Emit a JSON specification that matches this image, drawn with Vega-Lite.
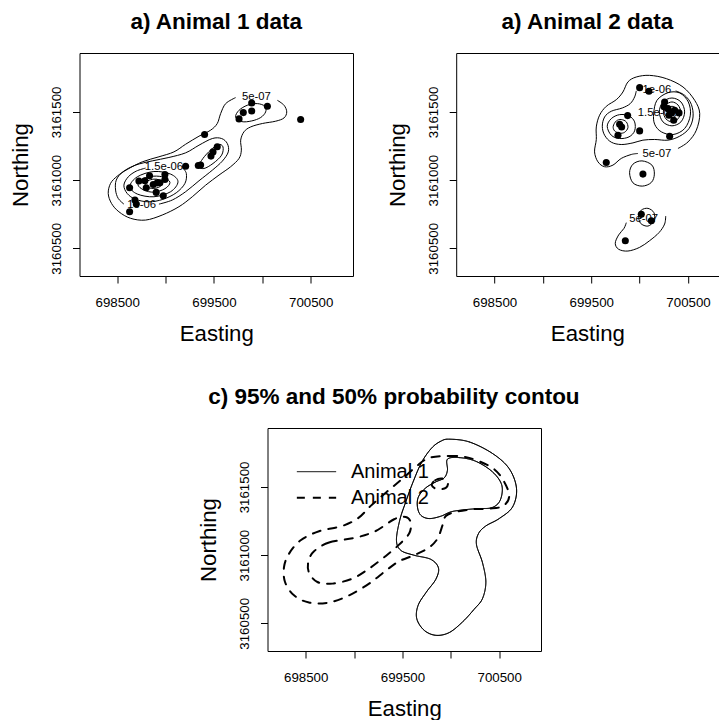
{
"$schema": "https://vega.github.io/schema/vega-lite/v6.json",
"background": "white",
"padding": {"left": 8.5, "top": 10, "right": 0, "bottom": 0},
"config": {
 "font": "Liberation Sans",
 "view": {"stroke": "black", "strokeWidth": 1},
 "axis": {"domain": false, "grid": false, "ticks": true, "tickColor": "black", "tickSize": 7, "tickWidth": 1, "labelColor": "black", "labelFontSize": 13.3, "labelFont": "Liberation Sans", "titleFont": "Liberation Sans", "titleFontSize": 22.2, "titleFontWeight": "normal", "titleColor": "black", "labelFlush": false, "labelOverlap": false, "labelBound": false},
 "axisX": {"labelPadding": 12, "titlePadding": 14},
 "axisY": {"labelAngle": -90, "labelAlign": "center", "labelBaseline": "alphabetic", "labelPadding": 12, "titlePadding": 17},
 "title": {"fontSize": 22.5, "font": "Liberation Sans", "fontWeight": "bold", "color": "black", "baseline": "alphabetic", "frame": "group", "anchor": "middle"}
},
"datasets": {
 "a_open": [
  {"s":"o1","i":0,"x":700155,"y":3161585},{"s":"o1","i":1,"x":700224,"y":3161549},{"s":"o1","i":2,"x":700252,"y":3161500},{"s":"o1","i":3,"x":700224,"y":3161456},{"s":"o1","i":4,"x":700138,"y":3161432},{"s":"o1","i":5,"x":700000,"y":3161415},{"s":"o1","i":6,"x":699879,"y":3161390},{"s":"o1","i":7,"x":699810,"y":3161354},{"s":"o1","i":8,"x":699776,"y":3161293},{"s":"o1","i":9,"x":699783,"y":3161220},{"s":"o1","i":10,"x":699759,"y":3161159},{"s":"o1","i":11,"x":699672,"y":3161098},{"s":"o1","i":12,"x":699552,"y":3161037},{"s":"o1","i":13,"x":699414,"y":3160963},{"s":"o1","i":14,"x":699276,"y":3160878},{"s":"o1","i":15,"x":699138,"y":3160805},{"s":"o1","i":16,"x":698965,"y":3160744},{"s":"o1","i":17,"x":698793,"y":3160707},{"s":"o1","i":18,"x":698638,"y":3160720},{"s":"o1","i":19,"x":698517,"y":3160768},{"s":"o1","i":20,"x":698441,"y":3160829},{"s":"o1","i":21,"x":698407,"y":3160902},{"s":"o1","i":22,"x":698431,"y":3160976},{"s":"o1","i":23,"x":698500,"y":3161029},{"s":"o1","i":24,"x":698603,"y":3161078},{"s":"o1","i":25,"x":698759,"y":3161134},{"s":"o1","i":26,"x":698931,"y":3161171},{"s":"o1","i":27,"x":699086,"y":3161207},{"s":"o1","i":28,"x":699207,"y":3161263},{"s":"o1","i":29,"x":699345,"y":3161322},{"s":"o1","i":30,"x":699465,"y":3161366},{"s":"o1","i":31,"x":699534,"y":3161415},{"s":"o1","i":32,"x":699569,"y":3161488},{"s":"o1","i":33,"x":699621,"y":3161561},{"s":"o1","i":34,"x":699724,"y":3161605},
  {"s":"o2","i":0,"x":698931,"y":3160824},{"s":"o2","i":1,"x":699069,"y":3160854},{"s":"o2","i":2,"x":699207,"y":3160915},{"s":"o2","i":3,"x":699345,"y":3160995},{"s":"o2","i":4,"x":699483,"y":3161073},{"s":"o2","i":5,"x":699586,"y":3161139},{"s":"o2","i":6,"x":699648,"y":3161207},{"s":"o2","i":7,"x":699638,"y":3161268},{"s":"o2","i":8,"x":699579,"y":3161305},{"s":"o2","i":9,"x":699483,"y":3161305},{"s":"o2","i":10,"x":699345,"y":3161256},{"s":"o2","i":11,"x":699207,"y":3161200},{"s":"o2","i":12,"x":699034,"y":3161166},{"s":"o2","i":13,"x":698862,"y":3161141},{"s":"o2","i":14,"x":698690,"y":3161110},{"s":"o2","i":15,"x":698559,"y":3161061},{"s":"o2","i":16,"x":698490,"y":3161000},{"s":"o2","i":17,"x":698483,"y":3160927},{"s":"o2","i":18,"x":698510,"y":3160866},{"s":"o2","i":19,"x":698569,"y":3160824},
  {"s":"o3","i":0,"x":699172,"y":3161093},{"s":"o3","i":1,"x":699214,"y":3161049},{"s":"o3","i":2,"x":699200,"y":3160976},{"s":"o3","i":3,"x":699110,"y":3160907},{"s":"o3","i":4,"x":698972,"y":3160859},{"s":"o3","i":5,"x":698828,"y":3160841},{"s":"o3","i":6,"x":698690,"y":3160859},{"s":"o3","i":7,"x":698603,"y":3160902},{"s":"o3","i":8,"x":698569,"y":3160963},{"s":"o3","i":9,"x":698614,"y":3161024},{"s":"o3","i":10,"x":698697,"y":3161066},{"s":"o3","i":11,"x":698793,"y":3161088}
 ],
 "a_closed": [
  {"s":"c1","i":0,"x":699724,"y":3161463},{"s":"c1","i":1,"x":699759,"y":3161512},{"s":"c1","i":2,"x":699845,"y":3161549},{"s":"c1","i":3,"x":699948,"y":3161561},{"s":"c1","i":4,"x":700027,"y":3161541},{"s":"c1","i":5,"x":700034,"y":3161500},{"s":"c1","i":6,"x":699983,"y":3161459},{"s":"c1","i":7,"x":699890,"y":3161434},{"s":"c1","i":8,"x":699786,"y":3161429},
  {"s":"c2","i":0,"x":699345,"y":3161102},{"s":"c2","i":1,"x":699386,"y":3161159},{"s":"c2","i":2,"x":699465,"y":3161220},{"s":"c2","i":3,"x":699545,"y":3161261},{"s":"c2","i":4,"x":699593,"y":3161244},{"s":"c2","i":5,"x":699579,"y":3161183},{"s":"c2","i":6,"x":699490,"y":3161122},{"s":"c2","i":7,"x":699396,"y":3161085},
  {"s":"c3","i":0,"x":699128,"y":3160988},{"s":"c3","i":1,"x":699052,"y":3161044},{"s":"c3","i":2,"x":698879,"y":3161063},{"s":"c3","i":3,"x":698707,"y":3161024},{"s":"c3","i":4,"x":698631,"y":3160954},{"s":"c3","i":5,"x":698707,"y":3160898},{"s":"c3","i":6,"x":698879,"y":3160878},{"s":"c3","i":7,"x":699052,"y":3160915},
  {"s":"c4","i":0,"x":699045,"y":3160983},{"s":"c4","i":1,"x":698983,"y":3161020},{"s":"c4","i":2,"x":698879,"y":3161029},{"s":"c4","i":3,"x":698765,"y":3161010},{"s":"c4","i":4,"x":698714,"y":3160966},{"s":"c4","i":5,"x":698776,"y":3160927},{"s":"c4","i":6,"x":698879,"y":3160912},{"s":"c4","i":7,"x":698993,"y":3160937},
  {"s":"c5","i":0,"x":698969,"y":3160978},{"s":"c5","i":1,"x":698931,"y":3161002},{"s":"c5","i":2,"x":698879,"y":3161007},{"s":"c5","i":3,"x":698817,"y":3160995},{"s":"c5","i":4,"x":698790,"y":3160968},{"s":"c5","i":5,"x":698828,"y":3160944},{"s":"c5","i":6,"x":698879,"y":3160939},{"s":"c5","i":7,"x":698938,"y":3160951}
 ],
 "a_pts": [
  {"x":700396,"y":3161444},{"x":699890,"y":3161566},{"x":700052,"y":3161541},{"x":699803,"y":3161495},{"x":699890,"y":3161507},{"x":699759,"y":3161449},{"x":699403,"y":3161334},{"x":699534,"y":3161244},{"x":699490,"y":3161207},{"x":699469,"y":3161176},{"x":699362,"y":3161110},{"x":699338,"y":3161107},{"x":699207,"y":3161102},{"x":698834,"y":3161032},{"x":698993,"y":3161041},{"x":698724,"y":3160993},{"x":698786,"y":3160995},{"x":698993,"y":3161005},{"x":698941,"y":3160980},{"x":698872,"y":3160968},{"x":698914,"y":3160980},{"x":698800,"y":3160944},{"x":698628,"y":3160944},{"x":698903,"y":3160910},{"x":698976,"y":3160885},{"x":698683,"y":3160854},{"x":698697,"y":3160824},{"x":698628,"y":3160768}
 ],
 "a_lab": [
  {"t":"5e-07","x":699938,"y":3161610},{"t":"1.5e-06","x":698983,"y":3161098},{"t":"1e-06","x":698752,"y":3160817}
 ],
 "b_open": [
  {"s":"o1","i":0,"x":700396,"y":3161232},{"s":"o1","i":1,"x":700500,"y":3161280},{"s":"o1","i":2,"x":700586,"y":3161366},{"s":"o1","i":3,"x":700621,"y":3161488},{"s":"o1","i":4,"x":700569,"y":3161585},{"s":"o1","i":5,"x":700448,"y":3161683},{"s":"o1","i":6,"x":700276,"y":3161744},{"s":"o1","i":7,"x":700103,"y":3161768},{"s":"o1","i":8,"x":699965,"y":3161756},{"s":"o1","i":9,"x":699879,"y":3161720},{"s":"o1","i":10,"x":699827,"y":3161646},{"s":"o1","i":11,"x":699759,"y":3161590},{"s":"o1","i":12,"x":699655,"y":3161541},{"s":"o1","i":13,"x":699586,"y":3161476},{"s":"o1","i":14,"x":699552,"y":3161390},{"s":"o1","i":15,"x":699552,"y":3161298},{"s":"o1","i":16,"x":699534,"y":3161207},{"s":"o1","i":17,"x":699569,"y":3161134},{"s":"o1","i":18,"x":699638,"y":3161098},{"s":"o1","i":19,"x":699724,"y":3161110},{"s":"o1","i":20,"x":699810,"y":3161159},{"s":"o1","i":21,"x":699914,"y":3161188},{"s":"o1","i":22,"x":699983,"y":3161195},
  {"s":"o2","i":0,"x":700269,"y":3160737},{"s":"o2","i":1,"x":700258,"y":3160678},{"s":"o2","i":2,"x":700200,"y":3160615},{"s":"o2","i":3,"x":700103,"y":3160556},{"s":"o2","i":4,"x":700000,"y":3160507},{"s":"o2","i":5,"x":699879,"y":3160480},{"s":"o2","i":6,"x":699783,"y":3160493},{"s":"o2","i":7,"x":699748,"y":3160537},{"s":"o2","i":8,"x":699783,"y":3160598},{"s":"o2","i":9,"x":699838,"y":3160646},{"s":"o2","i":10,"x":699862,"y":3160688},
  {"s":"o3","i":0,"x":700372,"y":3161654},{"s":"o3","i":1,"x":700465,"y":3161622},{"s":"o3","i":2,"x":700534,"y":3161556},{"s":"o3","i":3,"x":700552,"y":3161463},{"s":"o3","i":4,"x":700510,"y":3161378},{"s":"o3","i":5,"x":700414,"y":3161322},{"s":"o3","i":6,"x":700293,"y":3161293},{"s":"o3","i":7,"x":700155,"y":3161298},{"s":"o3","i":8,"x":700034,"y":3161293},{"s":"o3","i":9,"x":699931,"y":3161273},{"s":"o3","i":10,"x":699810,"y":3161261},{"s":"o3","i":11,"x":699707,"y":3161278},{"s":"o3","i":12,"x":699638,"y":3161329},{"s":"o3","i":13,"x":699614,"y":3161395},{"s":"o3","i":14,"x":699638,"y":3161463},{"s":"o3","i":15,"x":699707,"y":3161505},{"s":"o3","i":16,"x":699821,"y":3161529},{"s":"o3","i":17,"x":699903,"y":3161561},{"s":"o3","i":18,"x":699948,"y":3161610},{"s":"o3","i":19,"x":699965,"y":3161654}
 ],
 "b_closed": [
  {"s":"c1","i":0,"x":699896,"y":3161054},{"s":"c1","i":1,"x":699931,"y":3161117},{"s":"c1","i":2,"x":700024,"y":3161141},{"s":"c1","i":3,"x":700127,"y":3161110},{"s":"c1","i":4,"x":700152,"y":3161044},{"s":"c1","i":5,"x":700121,"y":3160983},{"s":"c1","i":6,"x":700027,"y":3160956},{"s":"c1","i":7,"x":699931,"y":3160980},
  {"s":"c2","i":0,"x":699990,"y":3160737},{"s":"c2","i":1,"x":700017,"y":3160780},{"s":"c2","i":2,"x":700086,"y":3160793},{"s":"c2","i":3,"x":700148,"y":3160761},{"s":"c2","i":4,"x":700148,"y":3160702},{"s":"c2","i":5,"x":700086,"y":3160663},{"s":"c2","i":6,"x":700010,"y":3160683},
  {"s":"c3","i":0,"x":699665,"y":3161395},{"s":"c3","i":1,"x":699707,"y":3161451},{"s":"c3","i":2,"x":699793,"y":3161480},{"s":"c3","i":3,"x":699890,"y":3161471},{"s":"c3","i":4,"x":699948,"y":3161427},{"s":"c3","i":5,"x":699948,"y":3161361},{"s":"c3","i":6,"x":699890,"y":3161317},{"s":"c3","i":7,"x":699793,"y":3161305},{"s":"c3","i":8,"x":699707,"y":3161329},
  {"s":"c4","i":0,"x":699727,"y":3161395},{"s":"c4","i":1,"x":699759,"y":3161434},{"s":"c4","i":2,"x":699810,"y":3161444},{"s":"c4","i":3,"x":699862,"y":3161427},{"s":"c4","i":4,"x":699879,"y":3161385},{"s":"c4","i":5,"x":699845,"y":3161351},{"s":"c4","i":6,"x":699793,"y":3161344},{"s":"c4","i":7,"x":699741,"y":3161361},
  {"s":"c5","i":0,"x":700145,"y":3161488},{"s":"c5","i":1,"x":700179,"y":3161585},{"s":"c5","i":2,"x":700293,"y":3161641},{"s":"c5","i":3,"x":700414,"y":3161639},{"s":"c5","i":4,"x":700503,"y":3161573},{"s":"c5","i":5,"x":700524,"y":3161476},{"s":"c5","i":6,"x":700465,"y":3161378},{"s":"c5","i":7,"x":700345,"y":3161334},{"s":"c5","i":8,"x":700224,"y":3161354},{"s":"c5","i":9,"x":700155,"y":3161410},
  {"s":"c6","i":0,"x":700465,"y":3161500},{"s":"c6","i":1,"x":700427,"y":3161573},{"s":"c6","i":2,"x":700334,"y":3161602},{"s":"c6","i":3,"x":700241,"y":3161573},{"s":"c6","i":4,"x":700203,"y":3161500},{"s":"c6","i":5,"x":700241,"y":3161427},{"s":"c6","i":6,"x":700334,"y":3161398},{"s":"c6","i":7,"x":700427,"y":3161427},
  {"s":"c7","i":0,"x":700424,"y":3161500},{"s":"c7","i":1,"x":700396,"y":3161551},{"s":"c7","i":2,"x":700334,"y":3161573},{"s":"c7","i":3,"x":700272,"y":3161551},{"s":"c7","i":4,"x":700245,"y":3161500},{"s":"c7","i":5,"x":700272,"y":3161449},{"s":"c7","i":6,"x":700334,"y":3161427},{"s":"c7","i":7,"x":700396,"y":3161449},
  {"s":"c8","i":0,"x":700386,"y":3161500},{"s":"c8","i":1,"x":700372,"y":3161529},{"s":"c8","i":2,"x":700334,"y":3161541},{"s":"c8","i":3,"x":700296,"y":3161529},{"s":"c8","i":4,"x":700283,"y":3161500},{"s":"c8","i":5,"x":700296,"y":3161471},{"s":"c8","i":6,"x":700334,"y":3161459},{"s":"c8","i":7,"x":700372,"y":3161471}
 ],
 "b_pts": [
  {"x":700000,"y":3161678},{"x":700096,"y":3161651},{"x":700258,"y":3161573},{"x":700252,"y":3161537},{"x":700293,"y":3161524},{"x":700327,"y":3161493},{"x":700362,"y":3161512},{"x":700407,"y":3161493},{"x":700303,"y":3161476},{"x":700352,"y":3161439},{"x":700310,"y":3161322},{"x":699876,"y":3161473},{"x":699793,"y":3161410},{"x":699814,"y":3161390},{"x":699776,"y":3161329},{"x":700000,"y":3161361},{"x":699655,"y":3161129},{"x":700034,"y":3161044},{"x":700017,"y":3160749},{"x":700121,"y":3160702},{"x":699852,"y":3160556}
 ],
 "b_lab": [
  {"t":"1e-06","x":700179,"y":3161663},{"t":"1.5e-06","x":700179,"y":3161495},{"t":"5e-07","x":700179,"y":3161190},{"t":"5e-07","x":700041,"y":3160712}
 ],
 "c_lines": [
  {"a":"Animal 1","s":"s1","i":0,"x":699983,"y":3161850},{"a":"Animal 1","s":"s1","i":1,"x":700190,"y":3161830},{"a":"Animal 1","s":"s1","i":2,"x":700431,"y":3161745},{"a":"Animal 1","s":"s1","i":3,"x":700603,"y":3161634},{"a":"Animal 1","s":"s1","i":4,"x":700679,"y":3161488},{"a":"Animal 1","s":"s1","i":5,"x":700638,"y":3161353},{"a":"Animal 1","s":"s1","i":6,"x":700500,"y":3161268},{"a":"Animal 1","s":"s1","i":7,"x":700362,"y":3161214},{"a":"Animal 1","s":"s1","i":8,"x":700286,"y":3161158},{"a":"Animal 1","s":"s1","i":9,"x":700265,"y":3161077},{"a":"Animal 1","s":"s1","i":10,"x":700327,"y":3160945},{"a":"Animal 1","s":"s1","i":11,"x":700362,"y":3160803},{"a":"Animal 1","s":"s1","i":12,"x":700327,"y":3160681},{"a":"Animal 1","s":"s1","i":13,"x":700241,"y":3160603},{"a":"Animal 1","s":"s1","i":14,"x":700121,"y":3160510},{"a":"Animal 1","s":"s1","i":15,"x":699983,"y":3160432},{"a":"Animal 1","s":"s1","i":16,"x":699845,"y":3160412},{"a":"Animal 1","s":"s1","i":17,"x":699724,"y":3160449},{"a":"Animal 1","s":"s1","i":18,"x":699648,"y":3160534},{"a":"Animal 1","s":"s1","i":19,"x":699662,"y":3160632},{"a":"Animal 1","s":"s1","i":20,"x":699748,"y":3160730},{"a":"Animal 1","s":"s1","i":21,"x":699845,"y":3160823},{"a":"Animal 1","s":"s1","i":22,"x":699872,"y":3160906},{"a":"Animal 1","s":"s1","i":23,"x":699793,"y":3160969},{"a":"Animal 1","s":"s1","i":24,"x":699621,"y":3160999},{"a":"Animal 1","s":"s1","i":25,"x":699483,"y":3161035},{"a":"Animal 1","s":"s1","i":26,"x":699438,"y":3161109},{"a":"Animal 1","s":"s1","i":27,"x":699472,"y":3161256},{"a":"Animal 1","s":"s1","i":28,"x":699534,"y":3161390},{"a":"Animal 1","s":"s1","i":29,"x":699610,"y":3161537},{"a":"Animal 1","s":"s1","i":30,"x":699700,"y":3161683},{"a":"Animal 1","s":"s1","i":31,"x":699803,"y":3161786},{"a":"Animal 1","s":"s1","i":32,"x":699896,"y":3161835},
  {"a":"Animal 1","s":"s2","i":0,"x":699965,"y":3161703},{"a":"Animal 1","s":"s2","i":1,"x":700086,"y":3161715},{"a":"Animal 1","s":"s2","i":2,"x":700258,"y":3161688},{"a":"Animal 1","s":"s2","i":3,"x":700431,"y":3161610},{"a":"Animal 1","s":"s2","i":4,"x":700527,"y":3161512},{"a":"Animal 1","s":"s2","i":5,"x":700510,"y":3161402},{"a":"Animal 1","s":"s2","i":6,"x":700424,"y":3161348},{"a":"Animal 1","s":"s2","i":7,"x":700276,"y":3161341},{"a":"Animal 1","s":"s2","i":8,"x":700121,"y":3161331},{"a":"Animal 1","s":"s2","i":9,"x":700000,"y":3161317},{"a":"Animal 1","s":"s2","i":10,"x":699896,"y":3161285},{"a":"Animal 1","s":"s2","i":11,"x":699776,"y":3161268},{"a":"Animal 1","s":"s2","i":12,"x":699690,"y":3161292},{"a":"Animal 1","s":"s2","i":13,"x":699655,"y":3161353},{"a":"Animal 1","s":"s2","i":14,"x":699665,"y":3161427},{"a":"Animal 1","s":"s2","i":15,"x":699741,"y":3161493},{"a":"Animal 1","s":"s2","i":16,"x":699845,"y":3161537},{"a":"Animal 1","s":"s2","i":17,"x":699931,"y":3161566},{"a":"Animal 1","s":"s2","i":18,"x":699965,"y":3161622},
  {"a":"Animal 2","s":"d1","i":0,"x":699776,"y":3161713},{"a":"Animal 2","s":"d1","i":1,"x":699983,"y":3161727},{"a":"Animal 2","s":"d1","i":2,"x":700190,"y":3161713},{"a":"Animal 2","s":"d1","i":3,"x":700431,"y":3161639},{"a":"Animal 2","s":"d1","i":4,"x":700552,"y":3161537},{"a":"Animal 2","s":"d1","i":5,"x":700603,"y":3161427},{"a":"Animal 2","s":"d1","i":6,"x":700534,"y":3161358},{"a":"Animal 2","s":"d1","i":7,"x":700396,"y":3161341},{"a":"Animal 2","s":"d1","i":8,"x":700224,"y":3161336},{"a":"Animal 2","s":"d1","i":9,"x":700052,"y":3161317},{"a":"Animal 2","s":"d1","i":10,"x":699948,"y":3161287},{"a":"Animal 2","s":"d1","i":11,"x":699914,"y":3161219},{"a":"Animal 2","s":"d1","i":12,"x":699862,"y":3161121},{"a":"Animal 2","s":"d1","i":13,"x":699769,"y":3161053},{"a":"Animal 2","s":"d1","i":14,"x":699621,"y":3160999},{"a":"Animal 2","s":"d1","i":15,"x":699465,"y":3160955},{"a":"Animal 2","s":"d1","i":16,"x":699328,"y":3160886},{"a":"Animal 2","s":"d1","i":17,"x":699155,"y":3160791},{"a":"Animal 2","s":"d1","i":18,"x":698948,"y":3160705},{"a":"Animal 2","s":"d1","i":19,"x":698741,"y":3160652},{"a":"Animal 2","s":"d1","i":20,"x":698534,"y":3160652},{"a":"Animal 2","s":"d1","i":21,"x":698379,"y":3160705},{"a":"Animal 2","s":"d1","i":22,"x":698286,"y":3160803},{"a":"Animal 2","s":"d1","i":23,"x":698276,"y":3160913},{"a":"Animal 2","s":"d1","i":24,"x":698328,"y":3161011},{"a":"Animal 2","s":"d1","i":25,"x":698448,"y":3161109},{"a":"Animal 2","s":"d1","i":26,"x":698638,"y":3161175},{"a":"Animal 2","s":"d1","i":27,"x":698879,"y":3161214},{"a":"Animal 2","s":"d1","i":28,"x":699045,"y":3161273},{"a":"Animal 2","s":"d1","i":29,"x":699172,"y":3161361},{"a":"Animal 2","s":"d1","i":30,"x":699328,"y":3161458},{"a":"Animal 2","s":"d1","i":31,"x":699493,"y":3161556},{"a":"Animal 2","s":"d1","i":32,"x":699638,"y":3161647},
  {"a":"Animal 2","s":"d2","i":0,"x":698586,"y":3161028},{"a":"Animal 2","s":"d2","i":1,"x":698741,"y":3161092},{"a":"Animal 2","s":"d2","i":2,"x":699017,"y":3161128},{"a":"Animal 2","s":"d2","i":3,"x":699224,"y":3161177},{"a":"Animal 2","s":"d2","i":4,"x":699414,"y":3161263},{"a":"Animal 2","s":"d2","i":5,"x":699534,"y":3161280},{"a":"Animal 2","s":"d2","i":6,"x":699586,"y":3161238},{"a":"Animal 2","s":"d2","i":7,"x":699569,"y":3161158},{"a":"Animal 2","s":"d2","i":8,"x":699465,"y":3161077},{"a":"Animal 2","s":"d2","i":9,"x":699328,"y":3160994},{"a":"Animal 2","s":"d2","i":10,"x":699155,"y":3160901},{"a":"Animal 2","s":"d2","i":11,"x":698983,"y":3160828},{"a":"Animal 2","s":"d2","i":12,"x":698776,"y":3160791},{"a":"Animal 2","s":"d2","i":13,"x":698621,"y":3160803},{"a":"Animal 2","s":"d2","i":14,"x":698534,"y":3160872},{"a":"Animal 2","s":"d2","i":15,"x":698528,"y":3160955},
  {"a":"Animal 2","s":"d3","i":0,"x":699803,"y":3161512},{"a":"Animal 2","s":"d3","i":1,"x":699838,"y":3161549},{"a":"Animal 2","s":"d3","i":2,"x":699914,"y":3161561},{"a":"Animal 2","s":"d3","i":3,"x":699969,"y":3161532},{"a":"Animal 2","s":"d3","i":4,"x":699948,"y":3161493},{"a":"Animal 2","s":"d3","i":5,"x":699862,"y":3161483}
 ]
},
"spacing": 40,
"vconcat": [
 {
  "hconcat": [
   {
    "width": 273.5, "height": 223,
    "title": {"text": "a) Animal 1 data", "offset": 19.5},
    "encoding": {
     "x": {"field": "x", "type": "quantitative", "scale": {"domain": [698110, 700937], "nice": false, "zero": false}, "axis": {"values": [698500, 699000, 699500, 700000, 700500], "format": "d", "labelExpr": "datum.value % 1000 == 500 ? datum.label : ''", "title": "Easting"}},
     "y": {"field": "y", "type": "quantitative", "scale": {"domain": [3160297, 3161932], "nice": false, "zero": false}, "axis": {"values": [3160500, 3161000, 3161500], "format": "d", "title": "Northing"}}
    },
    "layer": [
     {"data": {"name": "a_open"}, "mark": {"type": "line", "interpolate": "cardinal", "color": "black", "strokeWidth": 1, "clip": true}, "encoding": {"detail": {"field": "s", "type": "nominal"}, "order": {"field": "i", "type": "quantitative"}}},
     {"data": {"name": "a_closed"}, "mark": {"type": "line", "interpolate": "cardinal-closed", "color": "black", "strokeWidth": 1, "clip": true}, "encoding": {"detail": {"field": "s", "type": "nominal"}, "order": {"field": "i", "type": "quantitative"}}},
     {"data": {"name": "a_pts"}, "mark": {"type": "circle", "color": "black", "size": 50, "opacity": 1}},
     {"data": {"name": "a_lab"}, "mark": {"type": "text", "fontSize": 11.3, "color": "black", "font": "Liberation Sans"}, "encoding": {"text": {"field": "t", "type": "nominal"}}}
    ]
   },
   {
    "width": 262.3, "height": 223,
    "view": {"stroke": null},
    "title": {"text": "a) Animal 2 data", "offset": 19.5},
    "resolve": {"axis": {"x": "independent", "y": "independent"}},
    "layer": [
     {"data": {"name": "b_open"}, "mark": {"type": "line", "interpolate": "cardinal", "color": "black", "strokeWidth": 1, "clip": true},
      "encoding": {
       "x": {"field": "x", "type": "quantitative", "scale": {"domain": [698104, 700815], "nice": false, "zero": false}, "axis": {"values": [698500, 699000, 699500, 700000, 700500], "format": "d", "labelExpr": "datum.value % 1000 == 500 ? datum.label : ''", "title": "Easting", "domain": true, "domainColor": "black", "domainWidth": 1}},
       "y": {"field": "y", "type": "quantitative", "scale": {"domain": [3160297, 3161932], "nice": false, "zero": false}, "axis": {"values": [3160500, 3161000, 3161500], "format": "d", "title": "Northing", "domain": true, "domainColor": "black", "domainWidth": 1}},
       "detail": {"field": "s", "type": "nominal"}, "order": {"field": "i", "type": "quantitative"}}},
     {"data": {"name": "b_closed"}, "mark": {"type": "line", "interpolate": "cardinal-closed", "color": "black", "strokeWidth": 1, "clip": true},
      "encoding": {
       "x": {"field": "x", "type": "quantitative", "axis": null},
       "y": {"field": "y", "type": "quantitative", "axis": null},
       "detail": {"field": "s", "type": "nominal"}, "order": {"field": "i", "type": "quantitative"}}},
     {"data": {"name": "b_pts"}, "mark": {"type": "circle", "color": "black", "size": 50, "opacity": 1},
      "encoding": {"x": {"field": "x", "type": "quantitative", "axis": null}, "y": {"field": "y", "type": "quantitative", "axis": null}}},
     {"data": {"name": "b_lab"}, "mark": {"type": "text", "fontSize": 11.3, "color": "black", "font": "Liberation Sans"},
      "encoding": {"x": {"field": "x", "type": "quantitative", "axis": null}, "y": {"field": "y", "type": "quantitative", "axis": null}, "text": {"field": "t", "type": "nominal"}}},
     {"data": {"name": "b_pts"}, "mark": {"type": "point", "opacity": 0},
      "encoding": {"x": {"field": "x", "type": "quantitative", "axis": {"orient": "top", "domain": true, "domainColor": "black", "domainWidth": 1, "ticks": false, "labels": false, "title": null}}, "y": {"field": "y", "type": "quantitative", "axis": null}}}
    ]
   }
  ],
  "spacing": 102.7,
  "bounds": "flush"
 },
 {
  "hconcat": [
   {"width": 187.8, "height": 10, "data": {"values": []}, "mark": "point", "view": {"stroke": "transparent"}},
   {
    "width": 273.5, "height": 223,
    "title": {"text": "c) 95% and 50% probability contou", "offset": 19.5, "anchor": "start", "dx": -59.2},
    "data": {"name": "c_lines"},
    "mark": {"type": "line", "interpolate": "cardinal-closed", "color": "black", "strokeCap": "round", "clip": true},
    "encoding": {
     "x": {"field": "x", "type": "quantitative", "scale": {"domain": [698105, 700932], "nice": false, "zero": false}, "axis": {"values": [698500, 699000, 699500, 700000, 700500], "format": "d", "labelExpr": "datum.value % 1000 == 500 ? datum.label : ''", "title": "Easting"}},
     "y": {"field": "y", "type": "quantitative", "scale": {"domain": [3160297, 3161932], "nice": false, "zero": false}, "axis": {"values": [3160500, 3161000, 3161500], "format": "d", "title": "Northing"}},
     "detail": {"field": "s", "type": "nominal"},
     "order": {"field": "i", "type": "quantitative"},
     "strokeDash": {"field": "a", "type": "ordinal", "scale": {"domain": ["Animal 1", "Animal 2"], "range": [[1, 0], [8, 8]]}, "legend": {"title": null, "orient": "none", "legendX": 216, "legendY": 405.9, "symbolType": "stroke", "symbolSize": 1545, "symbolStrokeColor": "black", "labelFontSize": 20, "labelFont": "Liberation Sans", "labelColor": "black", "labelOffset": 13.5, "rowPadding": 0, "clipHeight": 25.6, "padding": 0}},
     "strokeWidth": {"field": "a", "type": "ordinal", "scale": {"domain": ["Animal 1", "Animal 2"], "range": [1, 2]}, "legend": {"title": null, "orient": "none", "legendX": 216, "legendY": 405.9, "symbolType": "stroke", "symbolSize": 1545, "symbolStrokeColor": "black", "labelFontSize": 20, "labelFont": "Liberation Sans", "labelColor": "black", "labelOffset": 13.5, "rowPadding": 0, "clipHeight": 25.6, "padding": 0}}
    }
   }
  ],
  "spacing": 0,
  "bounds": "flush"
 }
]
}
